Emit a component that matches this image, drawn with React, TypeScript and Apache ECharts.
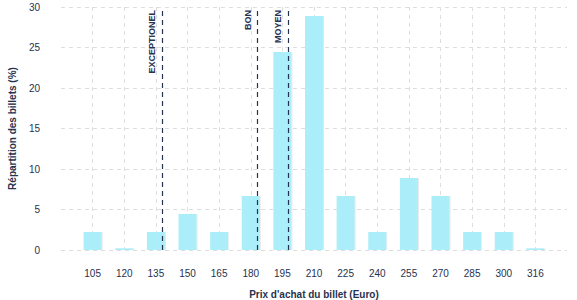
import React, { useEffect, useRef } from "react";
import * as echarts from "echarts";

const priceLabels = ["105", "120", "135", "150", "165", "180", "195", "210", "225", "240", "255", "270", "285", "300", "316"];
const shares = [2.22, 0.2, 2.22, 4.44, 2.22, 6.67, 24.44, 28.89, 6.67, 2.22, 8.89, 6.67, 2.22, 2.22, 0.2];
const refNames = ["EXCEPTIONEL", "BON", "MOYEN"];
const refPrices = [137.8, 183.3, 197.6];
const yTicks = { min: 0, max: 30, interval: 5 };

const navy = "#27324f";

export default function App() {
  const ref = useRef<HTMLDivElement>(null);
  useEffect(() => {
    if (!ref.current) return;
    const chart = echarts.init(ref.current, undefined, { renderer: "svg" });
    const cats = ["", ...priceLabels, ""];
    const vals = [null, ...shares, null];
    chart.setOption({
      animation: false,
      textStyle: { fontFamily: "Liberation Sans, Arial, sans-serif" },
      grid: { left: 61, right: 10, top: 7, bottom: 50, containLabel: false, outerBoundsMode: "none" },
      xAxis: [
        {
          type: "category",
          data: cats,
          boundaryGap: false,
          axisLine: { show: false },
          axisTick: { show: false },
          axisLabel: { color: navy, fontSize: 10, margin: 18 },
          splitLine: {
            show: true,
            interval: (i: number) => i > 0 && i < cats.length - 1,
            lineStyle: { color: "#dddddd", type: [4, 4], width: 1 },
          },
          name: "Prix d'achat du billet (Euro)",
          nameLocation: "middle",
          nameGap: 39,
          nameTextStyle: { color: navy, fontSize: 10, fontWeight: "bold" },
        },
        {
          type: "value",
          min: 90,
          max: 330,
          show: false,
        },
      ],
      yAxis: {
        type: "value",
        min: yTicks.min,
        max: yTicks.max,
        interval: yTicks.interval,
        axisLine: { show: false },
        axisTick: { show: false },
        axisLabel: { color: navy, fontSize: 10, margin: 21 },
        splitLine: { lineStyle: { color: "#dddddd", type: [4, 4], width: 1 } },
        name: "Répartition des billets (%)",
        nameLocation: "middle",
        nameGap: 43,
        nameTextStyle: { color: navy, fontSize: 10, fontWeight: "bold" },
      },
      series: [
        {
          type: "bar",
          data: vals,
          barWidth: 18,
          itemStyle: {
            color: "#abedf8",
            shadowColor: "rgba(0,0,0,0.1)",
            shadowOffsetX: 1,
            shadowBlur: 0,
          },
          silent: true,
        },
        {
          type: "scatter",
          xAxisIndex: 1,
          data: [[90, 0]],
          symbolSize: 0,
          silent: true,
          markLine: {
            silent: true,
            symbol: "none",
            lineStyle: { color: navy, type: [5, 4], width: 1.2 },
            label: {
              show: true,
              position: "insideEndTop",
              distance: [3, 5],
              color: navy,
              fontSize: 9,
              fontWeight: "bold",
              formatter: (p: any) => p.name,
            },
            data: refNames.map((n, i) => ({ name: n, xAxis: refPrices[i] })),
          },
        },
      ],
    });
    return () => chart.dispose();
  }, []);
  return <div ref={ref} style={{ width: 577, height: 300, position: "absolute", left: 0, top: 0 }} />;
}
